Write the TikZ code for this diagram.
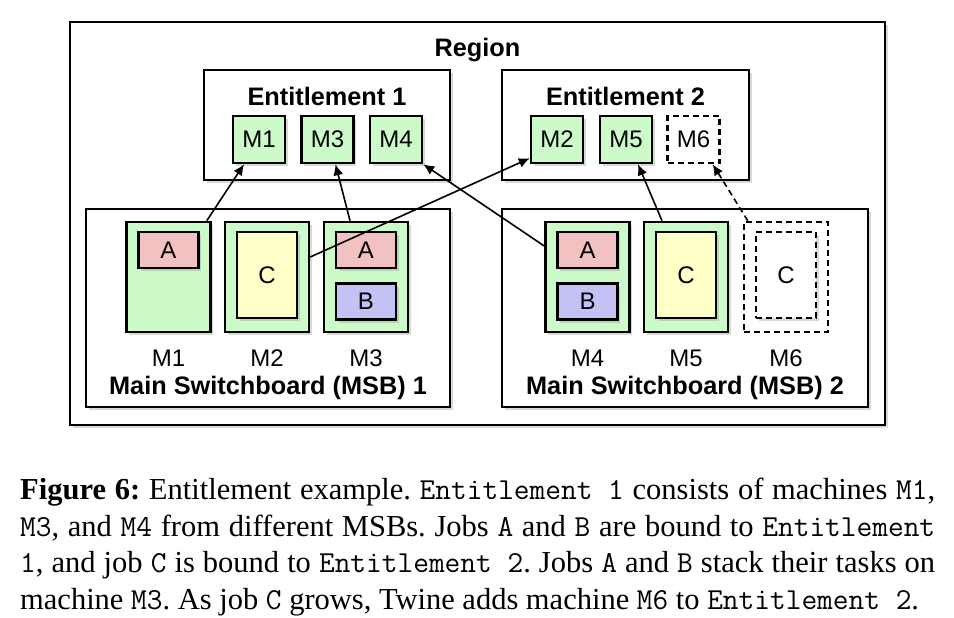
\documentclass[tikz,border=0pt]{standalone}
\usepackage{fontspec}
\setmainfont{Liberation Sans}
\newfontfamily\capfont{Liberation Serif}
\usetikzlibrary{arrows.meta,positioning,shadows}

\definecolor{hostgreen}{RGB}{204,250,200}
\definecolor{jobA}{RGB}{242,194,194}
\definecolor{jobB}{RGB}{194,194,245}
\definecolor{jobC}{RGB}{255,255,200}

\begin{document}
\begin{tikzpicture}[x=1pt, y=-1pt,
  every node/.style={font=\fontsize{24}{28}\selectfont},
  softshadow/.style={drop shadow={opacity=0.3, shadow xshift=2.5pt, shadow yshift=-3pt}},
  container/.style={draw, line width=2.5pt, fill=white, softshadow, inner sep=0pt},
  slot/.style={draw, line width=2.5pt, fill=hostgreen, softshadow, minimum width=52pt, minimum height=47pt, inner sep=0pt},
  newslot/.style={draw, line width=2.5pt, dash pattern=on 6pt off 4pt, fill=white, minimum width=52pt, minimum height=47pt, inner sep=0pt},
  host/.style={draw, line width=2.5pt, fill=hostgreen, softshadow, minimum width=84pt, minimum height=110pt, inner sep=0pt},
  newhost/.style={draw, line width=2.5pt, dash pattern=on 6pt off 4pt, fill=white, minimum width=84pt, minimum height=110pt, inner sep=0pt},
  task/.style={draw, line width=2.5pt, softshadow, minimum width=60pt, minimum height=36pt, inner sep=0pt},
  bigtask/.style={task, minimum height=86pt},
  title/.style={font=\bfseries\fontsize{25.3}{28}\selectfont},
  link/.style={-{Latex[length=11pt,width=10pt]}, line width=1.6pt}
]
\useasboundingbox (0,0) rectangle (954,618);

% containers
\node[container, minimum width=815pt, minimum height=403pt] (region) at (477.5,223.5) {};
\node[container, minimum width=246pt, minimum height=110pt] (ent1) at (327,125) {};
\node[container, minimum width=247pt, minimum height=110pt] (ent2) at (625.5,125) {};
\node[container, minimum width=364pt, minimum height=198pt] (msb1) at (268,308) {};
\node[container, minimum width=366pt, minimum height=198pt] (msb2) at (685,308) {};

\node[title] (regiontitle) at (477.5,50) {Region};
\node[title] (ent1title) at (327,96) {Entitlement 1};
\node[title] (ent2title) at (625.5,96) {Entitlement 2};
\node[title] (msb1title) at (268,388) {Main Switchboard (MSB) 1};
\node[title] (msb2title) at (685,388) {Main Switchboard (MSB) 2};

% entitlement slots
\node[slot] (em1) at (259,139.5) {M1};
\node[slot] (em3) at (327.5,139.5) {M3};
\node[slot] (em4) at (396,139.5) {M4};
\node[slot] (em2) at (557,139.5) {M2};
\node[slot] (em5) at (626,139.5) {M5};
\node[newslot] (em6) at (693.5,139.5) {M6};

% machines
\node[host] (h1) at (168.5,277) {};
\node[host] (h2) at (267,277) {};
\node[host] (h3) at (366,277) {};
\node[host] (h4) at (587.5,277) {};
\node[host] (h5) at (686,277) {};
\node[newhost] (h6) at (786,277) {};

\node[below=13pt of h1] (l1) {M1};
\node[below=13pt of h2] (l2) {M2};
\node[below=13pt of h3] (l3) {M3};
\node[below=13pt of h4] (l4) {M4};
\node[below=13pt of h5] (l5) {M5};
\node[below=13pt of h6] (l6) {M6};

% tasks
\node[task, fill=jobA, below=10pt of h1.north] (a1) {A};
\node[bigtask, fill=jobC, below=10pt of h2.north] (c2) {C};
\node[task, fill=jobA, below=10pt of h3.north] (a3) {A};
\node[task, fill=jobB, below=13pt of a3] (b3) {B};
\node[task, fill=jobA, below=10pt of h4.north] (a4) {A};
\node[task, fill=jobB, below=13pt of a4] (b4) {B};
\node[bigtask, fill=jobC, below=10pt of h5.north] (c5) {C};
\node[bigtask, draw, dash pattern=on 6pt off 4pt, fill=white, drop shadow={opacity=0}, below=10pt of h6.north] (c6) {C};

% bindings
\draw[link] ([xshift=-5pt]h1.north east) -- ([xshift=-15pt]em1.south);
\draw[link] ([xshift=-16pt]h3.north) -- ([xshift=8pt]em3.south);
\draw[link] ([yshift=20pt]h2.east) -- ([yshift=6pt]em2.south west);
\draw[link] ([yshift=31pt]h4.west) -- (em4.south east);
\draw[link] ([xshift=-24pt]h5.north) -- ([xshift=12pt]em5.south);
\draw[link, dash pattern=on 6pt off 4pt] ([xshift=5pt]h6.north west) -- ([xshift=-8pt]em6.south east);

% caption
\node[anchor=north west, text width=915pt, align=justify, inner sep=0pt,
  font=\capfont\fontsize{30.5}{36.5}\selectfont\frenchspacing] (caption) at (20,478)
  {\textbf{Figure 6:} Entitlement example. \texttt{Entitlement 1} consists of machines \texttt{M1},\linebreak
   \texttt{M3}, and \texttt{M4} from different MSBs. Jobs \texttt{A} and \texttt{B} are bound to \texttt{Entitlement}\linebreak
   \texttt{1}, and job \texttt{C} is bound to \texttt{Entitlement 2}. Jobs \texttt{A} and \texttt{B} stack their tasks on\linebreak
   machine \texttt{M3}. As job \texttt{C} grows, Twine adds machine \texttt{M6} to \texttt{Entitlement 2}.};
\end{tikzpicture}
\end{document}
